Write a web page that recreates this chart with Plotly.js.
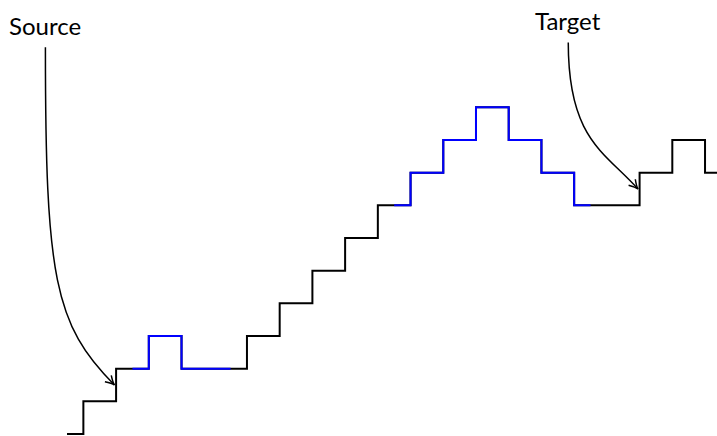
<!DOCTYPE html>
<html>
<head>
<meta charset="utf-8">
<script src="https://cdn.plot.ly/plotly-3.0.1.min.js"></script>
<style>
  html, body { margin: 0; padding: 0; background: #ffffff; }
  #chart { width: 717px; height: 436px; }
</style>
</head>
<body>
<div id="chart"></div>
<script>
// ---- data ----
const times  = [0,1,2,3,4,5,6,7,8,9,10,11,12,13,14,15,16,17,18,19,20];
const levels = [0,1,2,3,2,2,3,4,5,6,7,8,9,10,9,8,7,7,8,9,8];
const blueA  = [2,3,4,5];                 // highlighted time steps (first piece)
const blueB  = [10,11,12,13,14,15,16];    // highlighted time steps (second piece)
const labelTexts = ["Source", "Target"];
const labelX     = [-0.66, 15.32];        // label / arrow start (time units)
const labelY     = [11.84, 11.98];        // arrow start (level units)
const arrowTime  = [1.5, 17.5];           // step edge the arrow points at
const arrowPair  = [[1,2],[17,18]];       // levels around that edge

// ---- scale helpers (axes are fixed) ----
const W = 717, H = 436;
const xr = [-2.048, 19.866];
const yr = [-0.0612, 13.284];
const toPx = (x, y) => [ (x - xr[0]) / (xr[1]-xr[0]) * W, H - (y - yr[0]) / (yr[1]-yr[0]) * H ];
const toDa = (px, py) => [ xr[0] + px / W * (xr[1]-xr[0]), yr[0] + (H - py) / H * (yr[1]-yr[0]) ];

const pick = arr => ({ x: arr, y: arr.map(t => levels[times.indexOf(t)]) });

const traces = [
  { x: times, y: levels, mode: 'lines', line: { color: '#000000', width: 2, shape: 'hvh' }, hoverinfo: 'skip' },
  Object.assign(pick(blueA), { mode: 'lines', line: { color: '#0000ff', width: 2, shape: 'hvh' }, hoverinfo: 'skip' }),
  Object.assign(pick(blueB), { mode: 'lines', line: { color: '#0000ff', width: 2, shape: 'hvh' }, hoverinfo: 'skip' })
];

// curved arrows
const ctrl = [ { down: 230, back: [60, 60] }, { down: 97, back: [33, 37] } ];
const shapes = [];
const annotations = [];
for (let i = 0; i < labelTexts.length; i++) {
  const [a, b] = arrowPair[i];
  const tipD = [arrowTime[i] - 0.05, (levels[a] + levels[b]) / 2];
  const s = toPx(labelX[i], labelY[i]);
  const tp = toPx(tipD[0], tipD[1]);
  const p1 = [s[0], s[1] + ctrl[i].down];
  const p2 = [tp[0] - ctrl[i].back[0], tp[1] - ctrl[i].back[1]];
  const pts = [s, p1, p2, tp].map(p => toDa(p[0], p[1]));
  shapes.push({
    type: 'path', xref: 'x', yref: 'y', layer: 'above',
    path: `M ${pts[0][0]},${pts[0][1]} C ${pts[1][0]},${pts[1][1]} ${pts[2][0]},${pts[2][1]} ${pts[3][0]},${pts[3][1]}`,
    line: { color: '#000000', width: 1.5 }
  });
  // arrowhead
  let dx = tp[0] - p2[0], dy = tp[1] - p2[1];
  const len = Math.hypot(dx, dy); dx /= len; dy /= len;
  const nx = -dy, ny = dx;
  const L = 9, Wd = 4.5;
  const b1 = [tp[0] - L*dx + Wd*nx, tp[1] - L*dy + Wd*ny];
  const b2 = [tp[0] - L*dx - Wd*nx, tp[1] - L*dy - Wd*ny];
  const c1 = [tp[0] - 3*dx + 0.6*nx, tp[1] - 3*dy + 0.6*ny];
  const c2 = [tp[0] - 3*dx - 0.6*nx, tp[1] - 3*dy - 0.6*ny];
  const q = [b1, c1, tp, c2, b2].map(p => toDa(p[0], p[1]));
  shapes.push({
    type: 'path', xref: 'x', yref: 'y', layer: 'above',
    path: `M ${q[0][0]},${q[0][1]} Q ${q[1][0]},${q[1][1]} ${q[2][0]},${q[2][1]} Q ${q[3][0]},${q[3][1]} ${q[4][0]},${q[4][1]}`,
    line: { color: '#000000', width: 1.5 }
  });
  // label above the arrow start
  const lp = toDa(s[0], s[1] - 22);
  annotations.push({
    x: lp[0], y: lp[1], xref: 'x', yref: 'y', text: labelTexts[i], showarrow: false,
    xanchor: 'center', yanchor: 'middle',
    font: { family: 'Lato, "Noto Sans", sans-serif', size: 24, color: '#000000' }
  });
}

const layout = {
  width: W, height: H,
  margin: { l: 0, r: 0, t: 0, b: 0, pad: 0 },
  paper_bgcolor: '#ffffff', plot_bgcolor: '#ffffff',
  showlegend: false,
  xaxis: { range: xr, visible: false, fixedrange: true },
  yaxis: { range: yr, visible: false, fixedrange: true },
  shapes: shapes,
  annotations: annotations
};

Plotly.newPlot('chart', traces, layout, { displayModeBar: false, staticPlot: true });
</script>
</body>
</html>
